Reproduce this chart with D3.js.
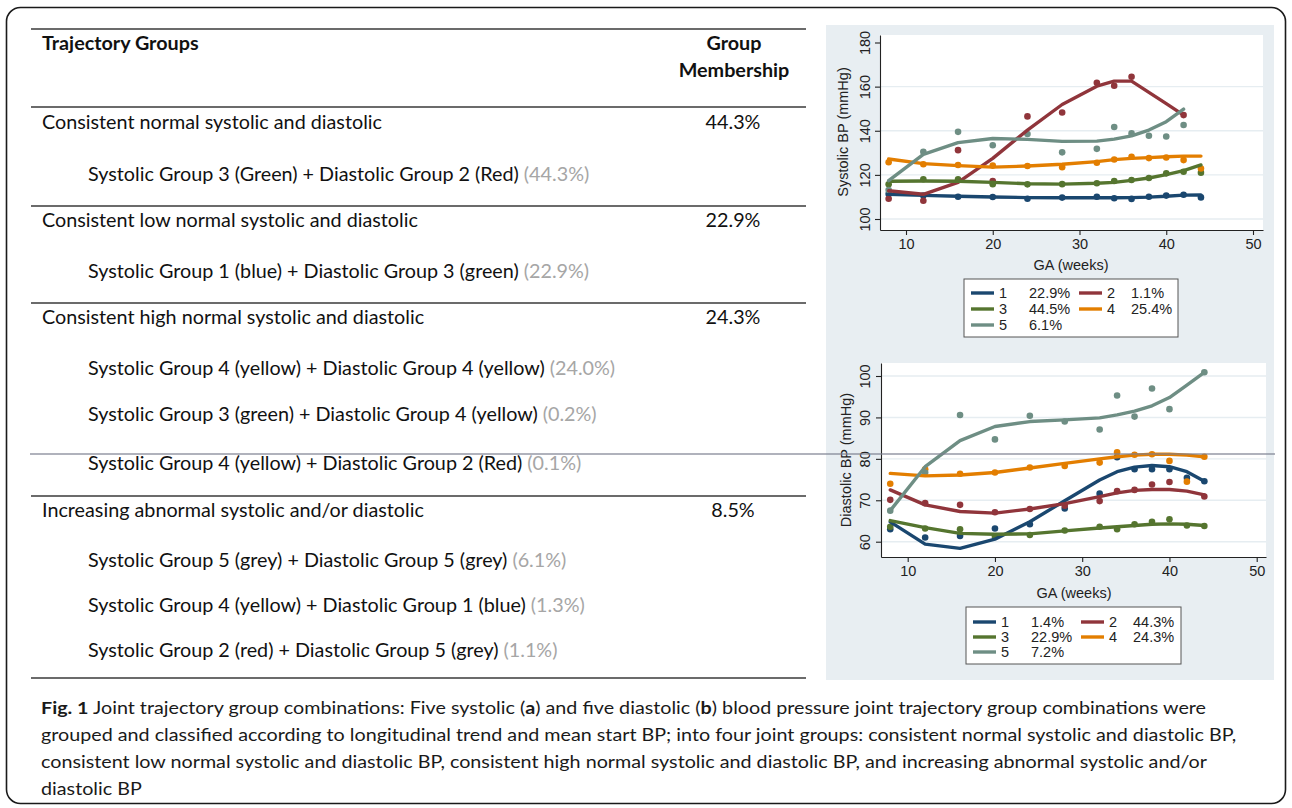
<!DOCTYPE html>
<html>
<head>
<meta charset="utf-8">
<script src="https://cdn.jsdelivr.net/npm/d3@7"></script>
<style>
  body { margin: 0; background: #fff; }
  svg { display: block; }
</style>
</head>
<body>
<svg id="fig" width="1292" height="808"></svg>
<script>
// ---------------- data ----------------
const weeks = [8, 12, 16, 20, 24, 28, 32, 34, 36, 38, 40, 42, 44];

// Systolic BP (mmHg): observed group means and fitted trajectories
const sys1Obs = [111.3, 110.6, 110.1, 110.0, 109.2, 109.7, 110.1, 109.4, 109.1, 110.1, 110.6, 111.0, 109.8];
const sys1Fit = [111.2, 110.7, 110.3, 110.0, 109.7, 109.6, 109.6, 109.6, 109.7, 109.9, 110.3, 110.8, 110.9];
const sys2Obs = [109.2, 108.3, 131.2, 117.2, 146.5, 148.3, 161.7, 160.4, 164.5, null, null, 147.1, null];
const sys2Fit = [112.8, 111.2, 116.6, 127.5, 140.3, 151.9, 160.2, 162.5, 162.5, 157.4, 152.3, 147.1, null];
const sys3Obs = [115.7, 118.0, 118.0, 115.8, 115.7, 115.8, 116.2, 117.2, 117.7, 118.6, 120.7, 121.4, 121.0];
const sys3Fit = [117.1, 117.2, 117.1, 116.6, 116.0, 115.8, 116.2, 116.6, 117.5, 118.6, 120.1, 121.9, 124.5];
const sys4Obs = [125.7, 124.8, 124.5, 124.2, 124.0, 123.5, 125.5, 127.0, 128.2, 127.6, 127.9, 126.7, 122.9];
const sys4Fit = [127.2, 125.1, 124.2, 123.5, 124.0, 124.8, 126.0, 126.9, 127.5, 127.8, 128.2, 128.5, 128.5];
const sys5Obs = [113.1, 130.5, 139.5, 133.4, 138.5, 130.2, 131.8, 141.7, 138.8, 137.7, 137.4, 142.6, null];
const sys5Fit = [117.4, 129.3, 134.6, 136.5, 136.1, 135.2, 135.3, 136.2, 137.7, 140.3, 144.1, 149.8, null];

// Diastolic BP (mmHg): observed group means and fitted trajectories
const dia1Obs = [63.0, 61.0, 61.4, 63.2, 64.2, 68.0, 71.6, 80.4, 77.5, 77.5, 77.5, 75.4, 74.6];
const dia1Fit = [64.8, 59.4, 58.4, 60.6, 64.8, 69.9, 74.9, 76.9, 78.0, 78.4, 78.1, 76.9, 74.6];
const dia2Obs = [70.1, 69.3, 68.9, 67.1, 67.9, 68.7, 69.8, 72.2, 72.5, 73.8, 74.4, null, 70.9];
const dia2Fit = [72.5, 68.9, 67.3, 66.9, 67.9, 69.2, 70.9, 71.8, 72.4, 72.6, 72.6, 72.2, 71.3];
const dia3Obs = [63.6, 63.2, 63.0, 61.2, 61.6, 62.7, 63.6, 63.0, 64.2, 64.8, 65.4, 63.9, 63.8];
const dia3Fit = [65.1, 63.4, 62.0, 61.8, 61.9, 62.6, 63.3, 63.6, 63.9, 64.2, 64.3, 64.2, 63.9];
const dia4Obs = [74.0, 77.5, 76.4, 76.7, 77.9, 78.3, 79.1, 81.6, 81.0, 81.1, 79.5, 74.5, 80.5];
const dia4Fit = [76.5, 75.9, 76.1, 76.7, 77.8, 78.9, 80.0, 80.5, 80.9, 81.1, 81.1, 80.9, 80.5];
const dia5Obs = [67.5, 76.7, 90.6, 84.7, 90.4, 89.0, 87.1, 95.3, 90.2, 97.0, 92.0, null, 100.9];
const dia5Fit = [67.5, 78.1, 84.4, 87.8, 89.0, 89.4, 89.9, 90.6, 91.5, 92.8, 94.8, 97.8, 100.9];

const groupIds = ["1", "2", "3", "4", "5"];
const sysShares = ["22.9%", "1.1%", "44.5%", "25.4%", "6.1%"];
const diaShares = ["1.4%", "44.3%", "22.9%", "24.3%", "7.2%"];

const xTicks = [10, 20, 30, 40, 50];
const sysTicks = [100, 120, 140, 160, 180];
const diaTicks = [60, 70, 80, 90, 100];

// Table contents
const headTitle = "Trajectory Groups";
const headMember = ["Group", "Membership"];
const jointGroups = [
  "Consistent normal systolic and diastolic",
  "Consistent low normal systolic and diastolic",
  "Consistent high normal systolic and diastolic",
  "Increasing abnormal systolic and/or diastolic"
];
const jointMembership = ["44.3%", "22.9%", "24.3%", "8.5%"];
const comboText = [
  ["Systolic Group 3 (Green) + Diastolic Group 2 (Red)"],
  ["Systolic Group 1 (blue) + Diastolic Group 3 (green)"],
  ["Systolic Group 4 (yellow) + Diastolic Group 4 (yellow)",
   "Systolic Group 3 (green) + Diastolic Group 4 (yellow)",
   "Systolic Group 4 (yellow) + Diastolic Group 2 (Red)"],
  ["Systolic Group 5 (grey) + Diastolic Group 5 (grey)",
   "Systolic Group 4 (yellow) + Diastolic Group 1 (blue)",
   "Systolic Group 2 (red) + Diastolic Group 5 (grey)"]
];
const comboShare = [
  ["(44.3%)"],
  ["(22.9%)"],
  ["(24.0%)", "(0.2%)", "(0.1%)"],
  ["(6.1%)", "(1.3%)", "(1.1%)"]
];

const captionLines = [
  [["Fig. 1", true], [" Joint trajectory group combinations: Five systolic (", false], ["a", true],
   [") and five diastolic (", false], ["b", true], [") blood pressure joint trajectory group combinations were", false]],
  [["grouped and classified according to longitudinal trend and mean start BP; into four joint groups: consistent normal systolic and diastolic BP,", false]],
  [["consistent low normal systolic and diastolic BP, consistent high normal systolic and diastolic BP, and increasing abnormal systolic and/or", false]],
  [["diastolic BP", false]]
];

// ---------------- drawing ----------------
const svg = d3.select("#fig");
const groupColors = ["#1a476f", "#90353b", "#55752f", "#e37e00", "#6e8e84"];

svg.append("rect").attr("width", 1292).attr("height", 808).attr("fill", "#fff");

// outer frame
svg.append("rect")
  .attr("x", 6.5).attr("y", 7.5).attr("width", 1279).attr("height", 796)
  .attr("rx", 14).attr("fill", "none").attr("stroke", "#1a1a1a").attr("stroke-width", 1.6);

// ----- table -----
const tbl = svg.append("g").attr("font-family", "Lato, 'Open Sans', sans-serif").attr("fill", "#111");
const tFont = 19;

// horizontal scale so the table text runs at its printed width
const probe = tbl.append("text").attr("font-size", tFont).text(jointGroups[0]);
const tK = 340 / probe.node().getComputedTextLength();
probe.remove();

function tText(g, str, x, y, opts = {}) {
  const t = g.append("text")
    .attr("x", x).attr("y", y).attr("dy", "0.36em")
    .attr("font-size", opts.size || tFont)
    .attr("font-weight", opts.bold ? "bold" : "normal")
    .attr("fill", opts.fill || "#111")
    .text(str);
  const w = t.node().getComputedTextLength() * tK;
  t.attr("textLength", w).attr("lengthAdjust", "spacingAndGlyphs");
  if (opts.anchor === "middle") t.attr("x", x - w / 2);
  return w;
}

const rules = [29, 107, 206, 303, 496, 678];
tbl.selectAll("line.rule").data(rules).join("line")
  .attr("class", "rule")
  .attr("x1", 31).attr("x2", 806)
  .attr("y1", d => d).attr("y2", d => d)
  .attr("stroke", "#3a3a3a").attr("stroke-width", 1.6);

tText(tbl, headTitle, 42, 43, { bold: true });
tText(tbl, headMember[0], 734, 43, { bold: true, anchor: "middle" });
tText(tbl, headMember[1], 734, 70, { bold: true, anchor: "middle" });

const titleY = [122, 220, 317, 510];
const comboY = [[174], [271], [368, 414, 463], [560, 605, 650]];
jointGroups.forEach((name, i) => {
  tText(tbl, name, 42, titleY[i]);
  tText(tbl, jointMembership[i], 733, titleY[i], { anchor: "middle" });
  comboText[i].forEach((c, j) => {
    const w = tText(tbl, c, 88, comboY[i][j]);
    tText(tbl, comboShare[i][j], 88 + w + 5, comboY[i][j], { fill: "#a6a6a6" });
  });
});

// ----- caption -----
const cap = svg.append("g").attr("font-family", "Lato, 'Open Sans', sans-serif").attr("fill", "#1a1a1a");
const capFont = 17.5;
const capY = [708, 735, 762, 789];
const capTexts = captionLines.map((parts, i) => {
  const t = cap.append("text").attr("x", 41).attr("y", capY[i]).attr("dy", "0.36em").attr("font-size", capFont);
  parts.forEach(([s, b]) => t.append("tspan").attr("font-weight", b ? "bold" : "normal").text(s));
  return t;
});
// the first line sets the horizontal scale used by every caption line
const capK = 1165 / capTexts[0].node().getComputedTextLength();
capTexts.forEach(t => {
  t.attr("textLength", t.node().getComputedTextLength() * capK).attr("lengthAdjust", "spacingAndGlyphs");
});

// ----- chart panels -----
svg.append("rect").attr("x", 826).attr("y", 25).attr("width", 448).attr("height", 655).attr("fill", "#e8eef2");

function drawPanel(cfg) {
  const g = svg.append("g").attr("font-family", "'Liberation Sans', Arial, sans-serif");
  const x = d3.scaleLinear().domain([10, 50]).range(cfg.xr);
  const y = d3.scaleLinear().domain(cfg.yd).range(cfg.yr);
  const b = cfg.box;

  g.append("rect").attr("x", b.left).attr("y", b.top)
    .attr("width", b.right - b.left).attr("height", b.bottom - b.top).attr("fill", "#fff");

  // horizontal grid
  g.selectAll("line.grid").data(cfg.ticks.filter(v => y(v) > b.top + 8)).join("line")
    .attr("class", "grid")
    .attr("x1", b.left).attr("x2", b.right)
    .attr("y1", d => y(d)).attr("y2", d => y(d))
    .attr("stroke", "#e6edf1").attr("stroke-width", 1.4);

  // axes spanning the full plot region
  const xa = x.copy().domain([x.invert(b.left), x.invert(b.right)]).range([b.left, b.right]);
  const ya = y.copy().domain([y.invert(b.bottom), y.invert(b.top)]).range([b.bottom, b.top]);

  const gx = g.append("g").attr("transform", `translate(0,${b.bottom})`)
    .call(d3.axisBottom(xa).tickValues(xTicks).tickSize(5).tickSizeOuter(0).tickPadding(4));
  const gy = g.append("g").attr("transform", `translate(${b.left},0)`)
    .call(d3.axisLeft(ya).tickValues(cfg.ticks).tickSize(5).tickSizeOuter(0));
  [gx, gy].forEach(a => {
    a.select(".domain").attr("stroke", "#222").attr("stroke-width", 1.1);
    a.selectAll(".tick line").attr("stroke", "#222").attr("stroke-width", 1.1);
    a.selectAll(".tick text").attr("font-size", 14.5).attr("fill", "#222").attr("font-family", null);
  });
  gy.selectAll(".tick text")
    .attr("x", 0).attr("dy", "0.36em").attr("text-anchor", "middle")
    .attr("transform", `translate(${cfg.yLabelOff},0) rotate(-90)`);

  // axis titles
  g.append("text").attr("transform", `translate(${cfg.yTitle[0]},${cfg.yTitle[1]}) rotate(-90)`)
    .attr("text-anchor", "middle").attr("dy", "0.36em").attr("font-size", 14.5).attr("fill", "#222")
    .text(cfg.yLabel);
  g.append("text").attr("x", cfg.xTitle[0]).attr("y", cfg.xTitle[1])
    .attr("text-anchor", "middle").attr("dy", "0.36em").attr("font-size", 14.5).attr("fill", "#222")
    .text("GA (weeks)");

  // observed means
  cfg.obs.forEach((vals, gi) => {
    g.append("g").selectAll("circle").data(weeks.map((w, i) => [w, vals[i]]).filter(d => d[1] != null))
      .join("circle")
      .attr("cx", d => x(d[0])).attr("cy", d => y(d[1])).attr("r", 3.3)
      .attr("fill", groupColors[gi]);
  });
  // fitted trajectories
  const line = d3.line().defined(d => d[1] != null).x(d => x(d[0])).y(d => y(d[1]));
  cfg.fit.forEach((vals, gi) => {
    g.append("path").datum(weeks.map((w, i) => [w, vals[i]]))
      .attr("d", line).attr("fill", "none")
      .attr("stroke", groupColors[gi]).attr("stroke-width", 3.4)
      .attr("stroke-linejoin", "round").attr("stroke-linecap", "round");
  });

  // legend
  const L = cfg.legend;
  const lg = g.append("g").attr("transform", `translate(${L.x},${L.y})`);
  lg.append("rect").attr("width", L.w).attr("height", L.h)
    .attr("fill", "#fff").attr("stroke", "#555").attr("stroke-width", 1);
  groupIds.forEach((id, i) => {
    const col = i % 2, row = Math.floor(i / 2);
    const ox = col === 0 ? 7 : 115;
    const oy = L.row0 + row * L.rowGap;
    lg.append("line").attr("x1", ox).attr("x2", ox + 23).attr("y1", oy).attr("y2", oy)
      .attr("stroke", groupColors[i]).attr("stroke-width", 3.4);
    lg.append("text").attr("x", ox + 28).attr("y", oy).attr("dy", "0.36em")
      .attr("font-size", 14.5).attr("fill", "#222").text(id);
    lg.append("text").attr("x", ox + (col === 0 ? 58 : 52)).attr("y", oy).attr("dy", "0.36em")
      .attr("font-size", 14.5).attr("fill", "#222").text(cfg.shares[i]);
  });
}

drawPanel({
  xr: [906, 1253], yd: [100, 180], yr: [219, 42.5],
  box: { left: 880, right: 1263, top: 35, bottom: 230 },
  ticks: sysTicks, yLabelOff: -15, yLabel: "Systolic BP (mmHg)",
  yTitle: [843, 132], xTitle: [1071, 265],
  obs: [sys1Obs, sys2Obs, sys3Obs, sys4Obs, sys5Obs],
  fit: [sys1Fit, sys2Fit, sys3Fit, sys4Fit, sys5Fit],
  shares: sysShares,
  legend: { x: 964, y: 279, w: 214, h: 58, row0: 14, rowGap: 16 }
});

drawPanel({
  xr: [907.7, 1256.7], yd: [60, 100], yr: [541.7, 376],
  box: { left: 881, right: 1266, top: 363, bottom: 557 },
  ticks: diaTicks, yLabelOff: -16, yLabel: "Diastolic BP (mmHg)",
  yTitle: [846, 460], xTitle: [1074, 593],
  obs: [dia1Obs, dia2Obs, dia3Obs, dia4Obs, dia5Obs],
  fit: [dia1Fit, dia2Fit, dia3Fit, dia4Fit, dia5Fit],
  shares: diaShares,
  legend: { x: 966, y: 607, w: 215, h: 57, row0: 15, rowGap: 15 }
});

// thin horizontal streak running across the figure
svg.append("line").attr("x1", 30).attr("x2", 1275).attr("y1", 454).attr("y2", 454)
  .attr("stroke", "#7d8090").attr("stroke-width", 1.6).attr("opacity", 0.8);
</script>
</body>
</html>
